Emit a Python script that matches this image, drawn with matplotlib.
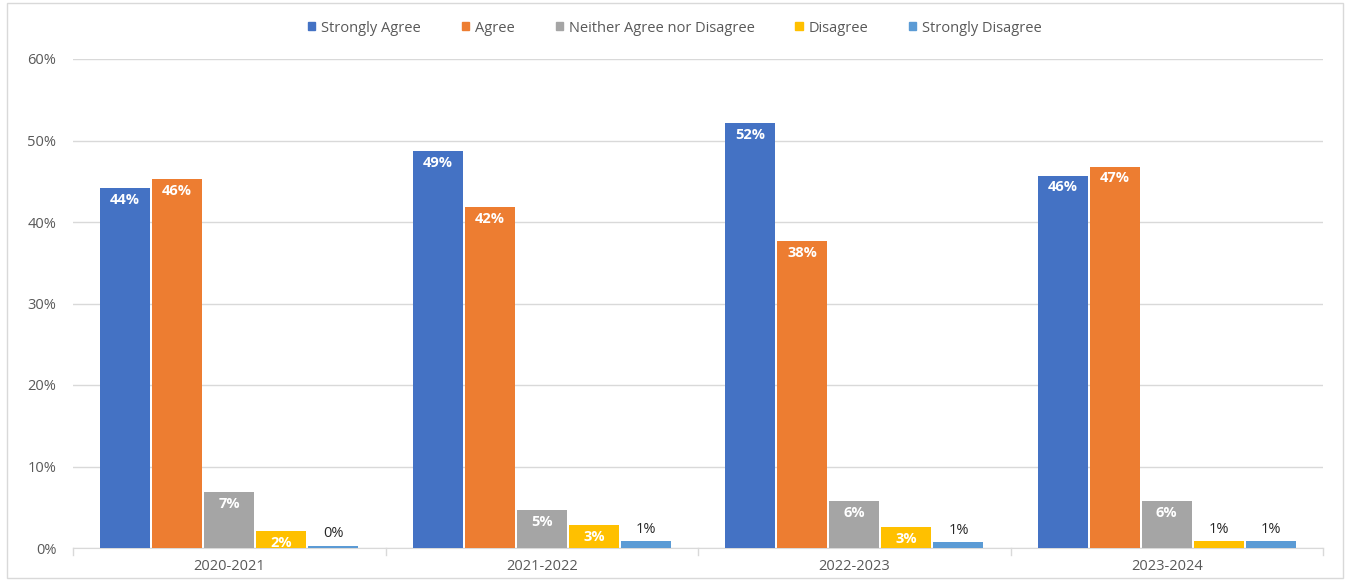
import numpy as np
import matplotlib
matplotlib.use("Agg")
import matplotlib.pyplot as plt
from matplotlib.patches import Rectangle

# ---- data (percent) ---------------------------------------------------- #
years = ["2020-2021", "2021-2022", "2022-2023", "2023-2024"]
categories = ["Strongly Agree", "Agree", "Neither Agree nor Disagree",
              "Disagree", "Strongly Disagree"]
strongly_agree = [44.2, 48.7, 52.1, 45.7]
agree = [45.3, 41.8, 37.7, 46.8]
neither = [6.9, 4.7, 5.8, 5.8]
disagree = [2.1, 2.8, 2.6, 0.8]
strongly_disagree = [0.3, 0.8, 0.7, 0.8]
labels = [
    ["44%", "49%", "52%", "46%"],
    ["46%", "42%", "38%", "47%"],
    ["7%", "5%", "6%", "6%"],
    ["2%", "3%", "3%", "1%"],
    ["0%", "1%", "1%", "1%"],
]
series = [strongly_agree, agree, neither, disagree, strongly_disagree]
colors = ["#4472C4", "#ED7D31", "#A5A5A5", "#FFC000", "#5B9BD5"]

plt.rcParams["font.family"] = ["Open Sans", "DejaVu Sans"]
TXT = "#595959"

fig = plt.figure(figsize=(13.5, 5.81), dpi=100)
ax = fig.add_axes([73 / 1350, 1 - 548 / 581, 1250 / 1350, 489 / 581])

x = np.arange(len(years))
w = 0.16
step = 0.1667
for i, (vals, col) in enumerate(zip(series, colors)):
    pos = x + (i - 2) * step
    ax.bar(pos, vals, width=w, color=col, zorder=3)
    for p, v, lab in zip(pos, vals, labels[i]):
        if v >= 2:
            ax.text(p, v - 0.6, lab, ha="center", va="top", color="white",
                    fontsize=10.5, fontweight="bold", zorder=4)
        else:
            ax.text(p, v + 0.5, lab, ha="center", va="bottom", color="#262626",
                    fontsize=10.5, zorder=4)

ax.set_xlim(-0.5, len(years) - 0.5)
ax.set_ylim(0, 60)
ax.set_yticks(np.arange(0, 61, 10))
ax.set_yticklabels([f"{t}%" for t in range(0, 61, 10)])
ax.yaxis.grid(True, color="#D9D9D9", lw=1, zorder=0)
ax.set_xticks(x)
ax.set_xticklabels(years)
ax.tick_params(axis="y", length=0, pad=12, labelsize=10.5, labelcolor=TXT)
ax.tick_params(axis="x", length=0, pad=8, labelsize=10.5, labelcolor=TXT)
# category separators
for b in np.arange(-0.5, len(years), 1.0):
    ax.plot([b, b], [0, -0.9], color="#D9D9D9", lw=1, clip_on=False)
for s in ["top", "right", "left"]:
    ax.spines[s].set_visible(False)
ax.spines["bottom"].set_color("#D9D9D9")

handles = [Rectangle((0, 0), 1, 1, color=c) for c in colors]
fig.legend(handles, categories, loc="center", bbox_to_anchor=(0.5, 1 - 28 / 581),
           ncol=5, frameon=False, fontsize=10.5, labelcolor=TXT,
           handlelength=0.5, handleheight=0.5, handletextpad=0.4,
           columnspacing=2.8)

# outer frame
fig.patches.append(Rectangle((0.005, 0.005), 0.99, 0.99, transform=fig.transFigure,
                             fill=False, edgecolor="#D9D9D9", lw=1))

fig.savefig("out.png", dpi=100)
